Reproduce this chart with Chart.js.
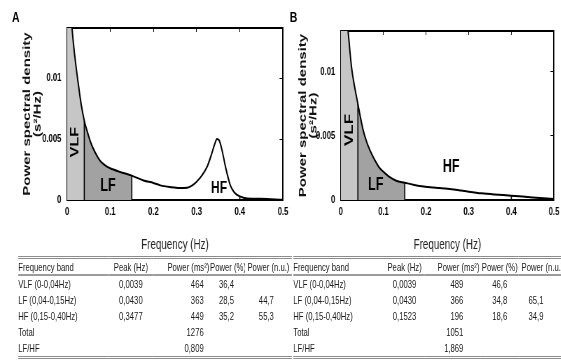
<!DOCTYPE html>
<html>
<head>
<meta charset="utf-8">
<script src="https://cdn.jsdelivr.net/npm/chart.js@4.4.0/dist/chart.umd.min.js"></script>
<style>
  html, body { margin: 0; padding: 0; background: #fff; width: 561px; height: 363px; overflow: hidden; }
  /* whole figure is drawn wide, then squeezed like the original scan */
  #page { position: absolute; left: 0; top: 0; width: 802px; height: 363px; transform: scaleX(0.7); transform-origin: 0 0; font-family: "Liberation Sans", Arial, sans-serif; }
  canvas { position: absolute; top: 0; }
  .tag { position: absolute; top: 10px; font: bold 15px/14px "Liberation Sans", Arial, sans-serif; color: #000; }
  table { position: absolute; top: 256px; border-collapse: collapse; table-layout: fixed; font-size: 11px; color: #1a1a1a;
          border-top: 3px double #8c8c8c; border-bottom: 3px double #8c8c8c; }
  th { font-weight: normal; height: 15px; padding: 0; border-bottom: 2px solid #9c9c9c; white-space: nowrap; overflow: hidden; }
  td { height: 16px; padding: 0; white-space: nowrap; overflow: hidden; }
  .l { text-align: left; }
  .c { text-align: center; }
  .r { text-align: right; }
</style>
</head>
<body>
<div id="page">
  <div class="tag" style="left:17px">A</div>
  <div class="tag" style="left:414px">B</div>
  <canvas id="chartA" width="417" height="255" style="left:0px"></canvas>
  <canvas id="chartB" width="410" height="255" style="left:394px"></canvas>
  <table id="tableA" style="left:26px"></table>
  <table id="tableB" style="left:419px"></table>
</div>
<script>
// spectrum A
const freqA = [0, 0.005, 0.01, 0.015, 0.02, 0.027, 0.033, 0.04, 0.047, 0.054, 0.065, 0.077, 0.09, 0.1, 0.123, 0.15,
  0.177, 0.2, 0.216, 0.24, 0.26, 0.278, 0.29, 0.3, 0.312, 0.324, 0.335, 0.342, 0.347, 0.352, 0.358, 0.367, 0.378,
  0.388, 0.4, 0.417, 0.448, 0.5];
const psdA = [0.02, 0.0172, 0.0148, 0.0128, 0.0112, 0.0093, 0.0078, 0.0065, 0.0056, 0.0048, 0.0039, 0.0032, 0.0028,
  0.0026, 0.0023, 0.002, 0.0016, 0.0014, 0.0012, 0.00105, 0.00098, 0.001, 0.0012, 0.0015, 0.002, 0.0027, 0.0038,
  0.0046, 0.005, 0.0049, 0.0042, 0.0027, 0.0012, 0.0006, 0.0003, 0.00013, 0.0001, 0.00002];

// spectrum B
const freqB = [0, 0.005, 0.01, 0.017, 0.025, 0.032, 0.04, 0.052, 0.06, 0.068, 0.08, 0.091, 0.1, 0.114, 0.13, 0.15,
  0.17, 0.19, 0.21, 0.23, 0.25, 0.27, 0.3, 0.33, 0.36, 0.4, 0.45, 0.5];
const psdB = [0.02, 0.018, 0.0158, 0.0132, 0.0104, 0.0089, 0.0075, 0.0055, 0.0046, 0.0039, 0.0031, 0.0025, 0.0022,
  0.0018, 0.0015, 0.00135, 0.0012, 0.00108, 0.001, 0.00094, 0.00088, 0.0008, 0.00065, 0.00052, 0.00043, 0.00034,
  0.0002, 0.00008];

const xTicks = [0, 0.1, 0.2, 0.3, 0.4, 0.5];
const yTicks = [0, 0.005, 0.01];
const bandNames = ['VLF', 'LF', 'HF'];
const bandEdges = [0, 0.04, 0.15, 0.4];

// table contents
const tableHead = ['Frequency band', 'Peak (Hz)', 'Power (ms²)', 'Power (%)', 'Power (n.u.)'];
const rowNames = ['VLF (0-0,04Hz)', 'LF (0,04-0,15Hz)', 'HF (0,15-0,40Hz)', 'Total', 'LF/HF'];
const peakA = ['0,0039', '0,0430', '0,3477', '', ''];
const powerA = ['464', '363', '449', '1276', '0,809'];
const pctA = ['36,4', '28,5', '35,2', '', ''];
const nuA = ['', '44,7', '55,3', '', ''];
const peakB = ['0,0039', '0,0430', '0,1523', '', ''];
const powerB = ['489', '366', '196', '1051', '1,869'];
const pctB = ['46,6', '34,8', '18,6', '', ''];
const nuB = ['', '65,1', '34,9', '', ''];

const family = '"Liberation Sans", Arial, sans-serif';
const narrow = '"Liberation Sans Narrow", "Arial Narrow", "Liberation Sans", Arial, sans-serif';
const bandFill = ['#c6c6c6', '#a2a2a2'];

// draws the VLF / LF / HF words inside the areas
const bandText = {
  id: 'bandText',
  afterDatasetsDraw(chart, args, opts) {
    const ctx = chart.ctx;
    const x = chart.scales.x, y = chart.scales.y;
    opts.spots.forEach((s, i) => {
      ctx.save();
      ctx.translate(x.getPixelForValue(s[0]), y.getPixelForValue(s[1]));
      if (i === 0) ctx.rotate(-Math.PI / 2);
      ctx.font = 'bold ' + opts.sizes[i] + 'px ' + family;
      ctx.textAlign = 'center';
      ctx.textBaseline = 'middle';
      ctx.fillStyle = '#000';
      ctx.fillText(bandNames[i], 0, 0);
      ctx.restore();
    });
  }
};

function makeChart(id, freq, psd, yMax, box, spots, sizes) {
  const pts = freq.map((f, i) => ({x: f, y: psd[i]}));
  const band = (lo, hi) => pts.filter(p => p.x >= lo && p.x <= hi);
  const edge = e => [{x: e, y: 0}, {x: e, y: pts.find(p => p.x === e).y}];

  const datasets = [
    {data: pts, borderColor: '#000', borderWidth: 2, fill: false, cubicInterpolationMode: 'monotone', order: 1},
    {data: band(bandEdges[0], bandEdges[1]), borderWidth: 0, borderColor: 'rgba(0,0,0,0)', backgroundColor: bandFill[0], fill: 'origin', cubicInterpolationMode: 'monotone', order: 3},
    {data: band(bandEdges[1], bandEdges[2]), borderWidth: 0, borderColor: 'rgba(0,0,0,0)', backgroundColor: bandFill[1], fill: 'origin', cubicInterpolationMode: 'monotone', order: 3}
  ];
  bandEdges.slice(1).forEach(e => {
    datasets.push({data: edge(e), borderColor: '#000', borderWidth: 1.6, fill: false, order: 2});
  });

  const tickFont = {family: narrow, size: 11, weight: 'bold'};
  const setX = s => { s.ticks = xTicks.map(v => ({value: v})); };
  const setY = s => { s.ticks = yTicks.map(v => ({value: v})); };

  return new Chart(document.getElementById(id), {
    type: 'line',
    data: {datasets: datasets},
    options: {
      responsive: false,
      animation: false,
      events: [],
      layout: {padding: {left: 0, top: box.top, right: box.right, bottom: 0}},
      elements: {point: {radius: 0}},
      plugins: {
        legend: {display: false},
        tooltip: {enabled: false},
        bandText: {spots: spots, sizes: sizes}
      },
      scales: {
        x: {
          type: 'linear', min: 0, max: 0.5,
          afterBuildTicks: setX,
          afterFit: s => { s.height = 55; },
          ticks: {callback: v => String(v), font: tickFont, color: '#000', padding: 5, maxRotation: 0},
          grid: {display: false, drawTicks: false},
          border: {display: true, color: '#000', width: 2},
          title: {display: true, text: 'Frequency (Hz)', color: '#222', font: {family: family, size: 14}, padding: {top: 0, bottom: 1}}
        },
        y: {
          type: 'linear', min: 0, max: yMax,
          afterBuildTicks: setY,
          afterFit: s => { s.width = box.left; },
          ticks: {callback: v => String(v), font: tickFont, color: '#000', padding: 8},
          grid: {display: false, drawTicks: false},
          border: {display: true, color: '#000', width: 2},
          title: {display: true, text: ['Power spectral density', '(s²/Hz)'], color: '#111',
                  font: {family: family, size: 15, weight: 'bold', lineHeight: 1}, padding: {top: 31, bottom: 0}}
        },
        x2: {
          type: 'linear', position: 'top', min: 0, max: 0.5,
          afterBuildTicks: setX,
          afterFit: s => { s.height = 0; },
          ticks: {display: false},
          grid: {display: true, drawOnChartArea: false, tickLength: -4, color: '#000'},
          border: {display: true, color: '#000', width: 2}
        },
        y2: {
          type: 'linear', position: 'right', min: 0, max: yMax,
          afterBuildTicks: setY,
          afterFit: s => { s.width = 0; },
          ticks: {display: false},
          grid: {display: true, drawOnChartArea: false, tickLength: -5, color: '#000'},
          border: {display: true, color: '#000', width: 2}
        }
      }
    },
    plugins: [bandText]
  });
}

makeChart('chartA', freqA, psdA, 0.0141, {left: 95.7, right: 12.7, top: 28},
  [[0.0185, 0.00475], [0.095, 0.00115], [0.352, 0.00098]], [16, 18, 17]);
makeChart('chartB', freqB, psdB, 0.0132, {left: 92.9, right: 11.4, top: 31},
  [[0.021, 0.00547], [0.082, 0.00117], [0.259, 0.00258]], [17, 18, 18]);

// tables under each panel
function fillTable(id, widths, headAlign, cellAlign, cellPad, cols) {
  const t = document.getElementById(id);
  let html = '<colgroup>' + widths.map(w => '<col style="width:' + w + 'px">').join('') + '</colgroup>';
  html += '<tr>' + tableHead.map((h, j) =>
    '<th class="' + headAlign[j] + '" style="padding:' + cellPad.head[j] + '">' + h + '</th>').join('') + '</tr>';
  rowNames.forEach((name, i) => {
    const vals = [name].concat(cols.map(c => c[i]));
    html += '<tr>' + vals.map((v, j) =>
      '<td class="' + cellAlign[j] + '" style="padding:' + cellPad.body[j] + '">' + v + '</td>').join('') + '</tr>';
  });
  t.innerHTML = html;
  t.style.width = widths.reduce((a, b) => a + b, 0) + 'px';
}

fillTable('tableA', [129, 64, 81, 50, 67],
  ['l', 'c', 'r', 'c', 'c'], ['l', 'c', 'r', 'c', 'c'],
  {head: ['0', '0', '0 1px 0 0', '0', '0'], body: ['0', '0', '0 9px 0 0', '0 3px 0 0', '0 6px 0 0']},
  [peakA, powerA, pctA, nuA]);
fillTable('tableB', [131, 56, 81, 54, 80],
  ['l', 'c', 'r', 'c', 'l'], ['l', 'c', 'r', 'c', 'l'],
  {head: ['0', '0', '0 2px 0 0', '0', '0 0 0 4px'], body: ['0', '0', '0 25px 0 0', '0', '0 0 0 14px']},
  [peakB, powerB, pctB, nuB]);
</script>
</body>
</html>
